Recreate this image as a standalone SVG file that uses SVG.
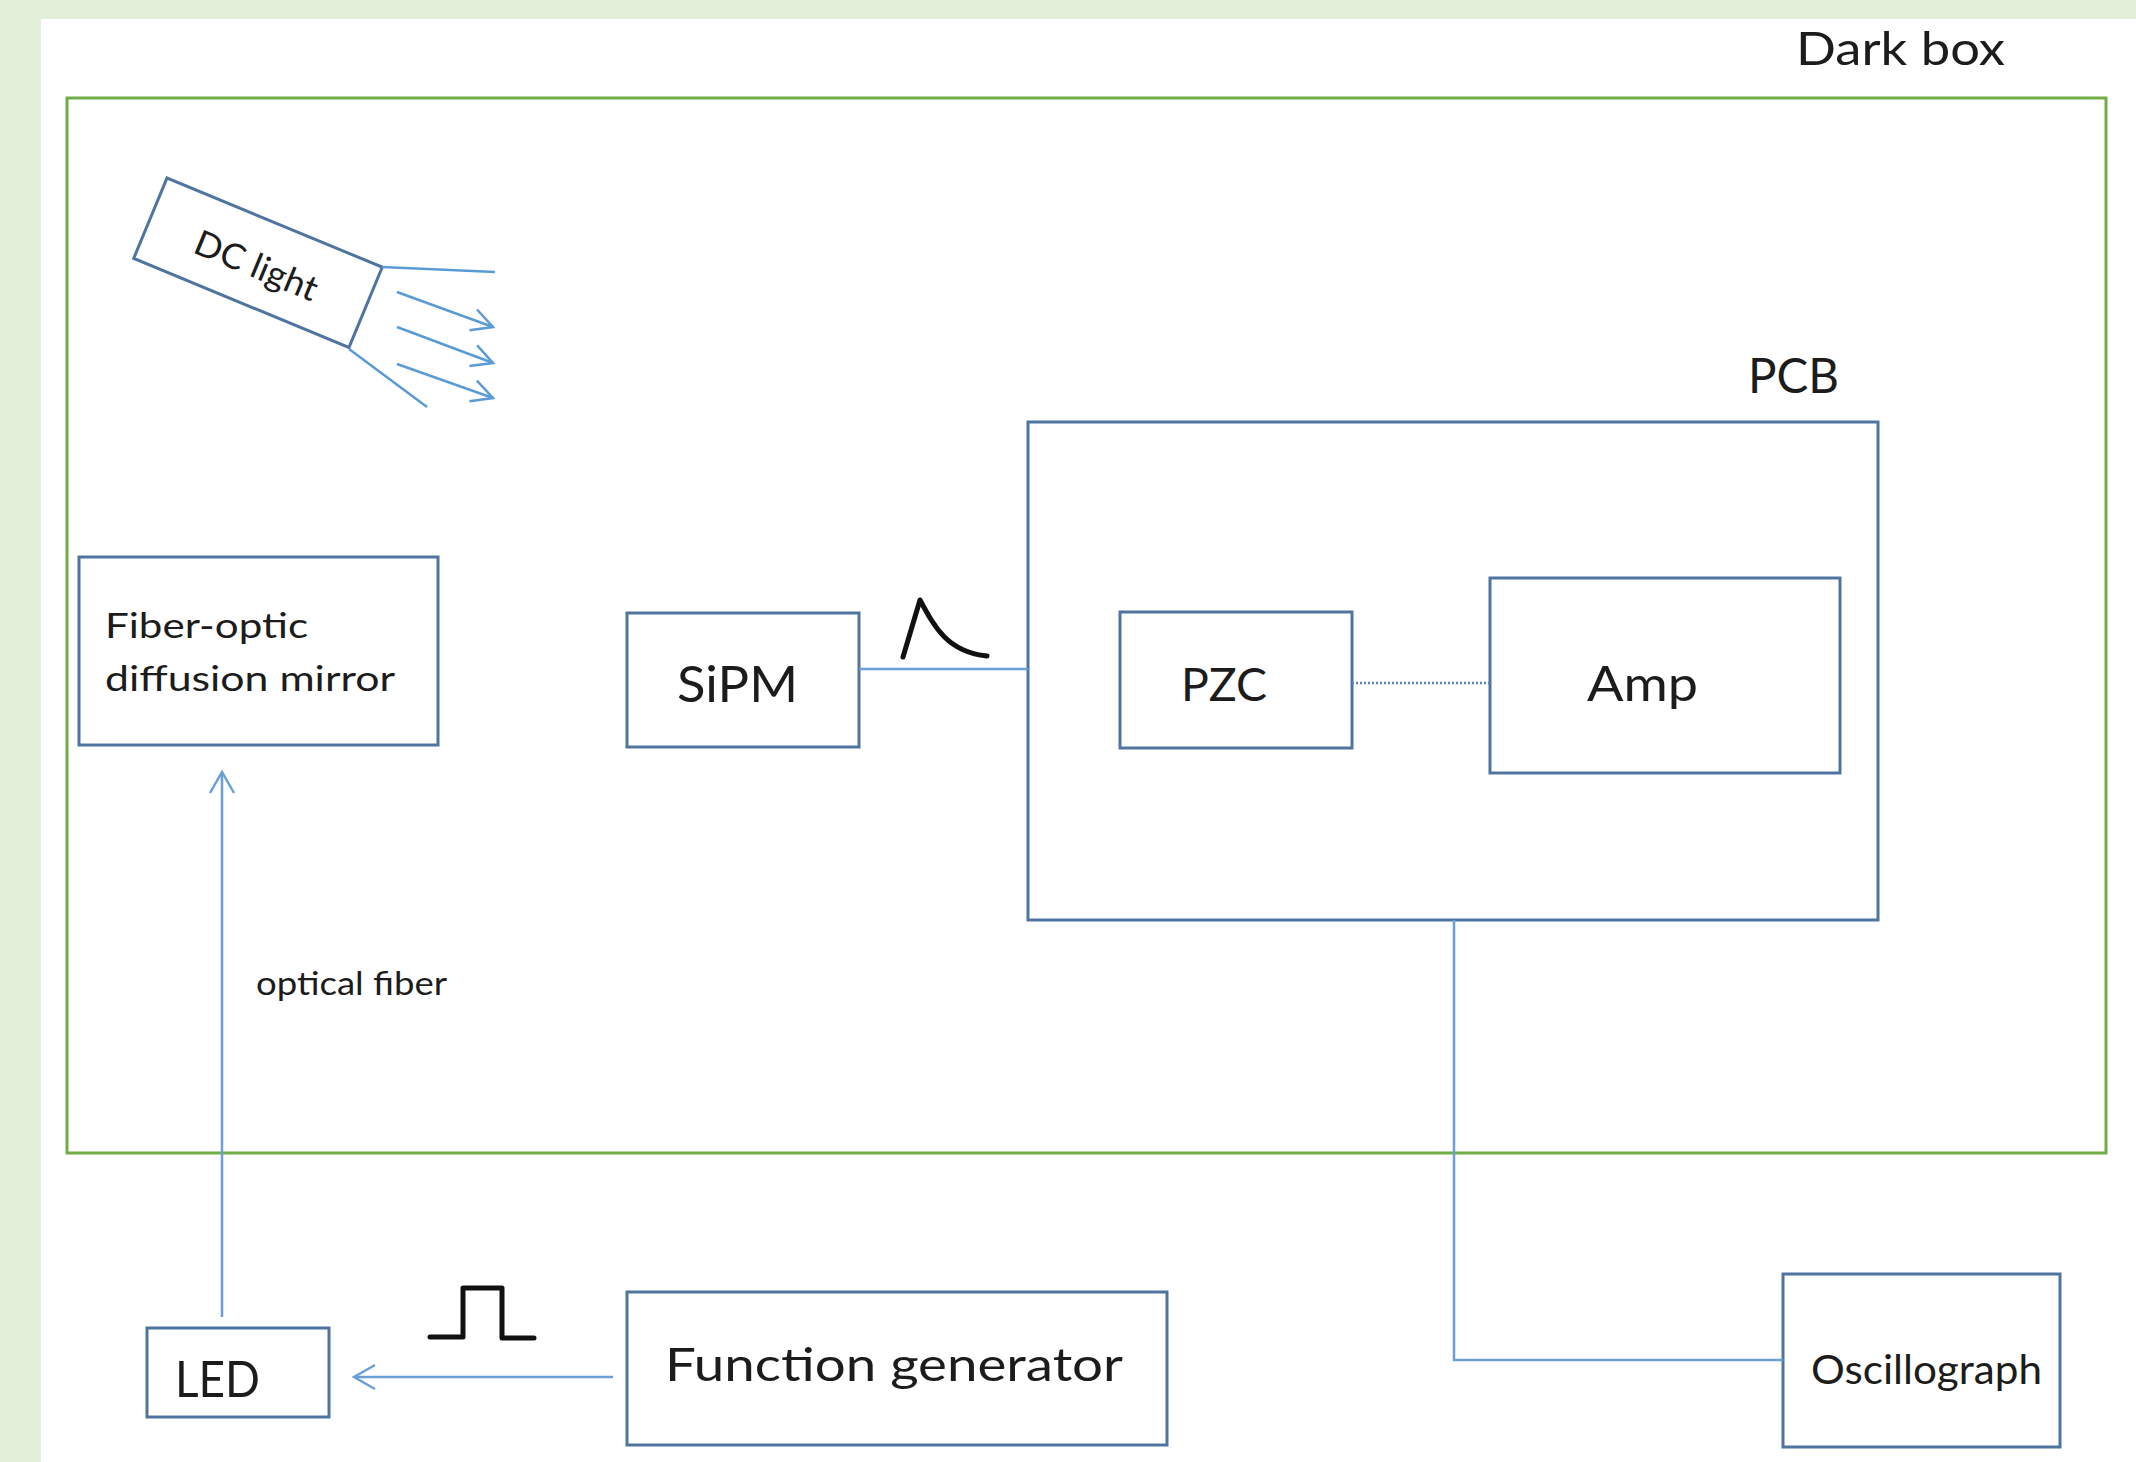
<svg xmlns="http://www.w3.org/2000/svg" width="2136" height="1462" viewBox="0 0 2136 1462">
  <defs>
    <style>
      .box { fill: #ffffff; stroke: #4f74a0; stroke-width: 3; }
      .dark { fill: none; stroke: #70ad47; stroke-width: 3; }
      .conn { fill: none; stroke: #6a9fd8; stroke-width: 2.5; }
      .ray { fill: none; stroke: #5b9bd5; stroke-width: 2.5; }
      .sig { fill: none; stroke: #111111; stroke-width: 5; stroke-linecap: round; stroke-linejoin: round; }
      .dot { fill: none; stroke: #5b83b5; stroke-width: 2.5; stroke-dasharray: 2 2; }
      text { font-family: Lato, "Liberation Sans", "Open Sans", sans-serif; fill: #1c1c1c; }
    </style>
    <marker id="vhead" viewBox="0 0 26 28" refX="23" refY="14" markerWidth="26" markerHeight="28" markerUnits="userSpaceOnUse" orient="auto">
      <path d="M2,2 L23,14 L2,26" fill="none" stroke="#6a9fd8" stroke-width="2.5"/>
    </marker>
    <marker id="rhead" viewBox="0 0 26 28" refX="23" refY="14" markerWidth="26" markerHeight="28" markerUnits="userSpaceOnUse" orient="auto">
      <path d="M2,3 L23,14 L2,25" fill="none" stroke="#5b9bd5" stroke-width="2.5"/>
    </marker>
  </defs>

  <rect x="0" y="0" width="2136" height="1462" fill="#e2efd9"/>
  <rect x="41" y="19" width="2095" height="1443" fill="#ffffff"/>

  <g id="dark-box">
    <rect class="dark" x="67" y="98" width="2039" height="1055"/>
    <text x="1796" y="65" font-size="47" textLength="209" lengthAdjust="spacingAndGlyphs">Dark box</text>
  </g>

  <g id="dc-light">
    <g transform="translate(167,178) rotate(22.5)">
      <rect class="box" x="0" y="0" width="233" height="87"/>
      <text x="116" y="59" font-size="35" text-anchor="middle" textLength="130" lengthAdjust="spacingAndGlyphs">DC light</text>
    </g>
    <path class="ray" d="M382,267 L495,272"/>
    <path class="ray" d="M349,349 L427,407"/>
    <path class="ray" d="M397,292 L493,327" marker-end="url(#rhead)"/>
    <path class="ray" d="M397,327 L493,363" marker-end="url(#rhead)"/>
    <path class="ray" d="M397,364 L493,398" marker-end="url(#rhead)"/>
  </g>

  <g id="fiber-mirror">
    <rect class="box" x="79" y="557" width="359" height="188"/>
    <text x="105" y="638" font-size="35" textLength="203" lengthAdjust="spacingAndGlyphs">Fiber-optic</text>
    <text x="105" y="691" font-size="35" textLength="290" lengthAdjust="spacingAndGlyphs">diffusion mirror</text>
  </g>

  <g id="sipm">
    <rect class="box" x="627" y="613" width="232" height="134"/>
    <text x="677" y="702" font-size="51" textLength="121" lengthAdjust="spacingAndGlyphs">SiPM</text>
  </g>

  <g id="pcb">
    <rect class="box" x="1028" y="422" width="850" height="498"/>
    <text x="1748" y="393" font-size="48" textLength="91" lengthAdjust="spacingAndGlyphs">PCB</text>
  </g>

  <g id="pzc">
    <rect class="box" x="1120" y="612" width="232" height="136"/>
    <text x="1181" y="701" font-size="47" textLength="86" lengthAdjust="spacingAndGlyphs">PZC</text>
  </g>

  <g id="amp">
    <rect class="box" x="1490" y="578" width="350" height="195"/>
    <text x="1587" y="701" font-size="48" textLength="111" lengthAdjust="spacingAndGlyphs">Amp</text>
  </g>

  <g id="led">
    <rect class="box" x="147" y="1328" width="182" height="89"/>
    <text x="175" y="1397" font-size="51" textLength="85" lengthAdjust="spacingAndGlyphs">LED</text>
  </g>

  <g id="function-generator">
    <rect class="box" x="627" y="1292" width="540" height="153"/>
    <text x="665" y="1381" font-size="46" textLength="458" lengthAdjust="spacingAndGlyphs">Function generator</text>
  </g>

  <g id="oscillograph">
    <rect class="box" x="1783" y="1274" width="277" height="173"/>
    <text x="1811" y="1384" font-size="41" textLength="231" lengthAdjust="spacingAndGlyphs">Oscillograph</text>
  </g>

  <g id="connectors">
    <path class="conn" d="M859,669 L1028,669"/>
    <path class="sig" d="M903,657 L920,600 C935,628 948,652 987,656"/>
    <path class="dot" d="M1352,683 L1490,683"/>
    <path class="conn" d="M1454,920 L1454,1360 L1783,1360"/>
    <path class="conn" d="M222,1317 L222,772" marker-end="url(#vhead)"/>
    <text x="256" y="995" font-size="33" textLength="191" lengthAdjust="spacingAndGlyphs">optical fiber</text>
    <path class="conn" d="M613,1377 L354,1377" marker-end="url(#vhead)"/>
    <path class="sig" d="M430,1337 L463,1337 L463,1288 L502,1288 L502,1338 L534,1338"/>
  </g>
</svg>
